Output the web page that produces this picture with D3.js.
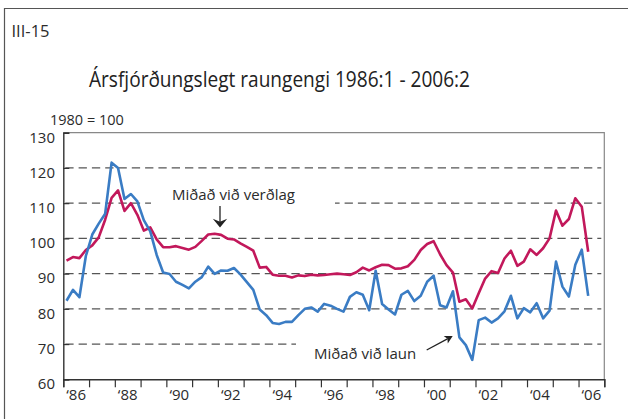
<!DOCTYPE html>
<html>
<head>
<meta charset="utf-8">
<script src="https://cdn.jsdelivr.net/npm/d3@7"></script>
<style>
  html, body { margin: 0; padding: 0; background: #fff; }
  svg { display: block; }
  text { font-family: "Open Sans", "Noto Sans", sans-serif; fill: #2b2b2b; }
</style>
</head>
<body>
<svg id="chart" width="628" height="419"></svg>
<script>
// Real exchange rate index (1980 = 100), quarterly from 1986:1 to 2006:2
const firstYear = 1986;
const firstQuarter = 1;

// Based on relative prices
const verdlag = [
  93.7, 94.7, 94.4, 96.7, 98.0, 100.3, 105.3, 111.5,
  113.6, 107.8, 110.0, 106.7, 102.2, 103.1, 99.7, 97.5,
  97.5, 97.8, 97.3, 96.8, 97.6, 99.3, 101.1, 101.3,
  101.0, 99.9, 99.7, 98.6, 97.6, 96.5, 91.7, 91.9,
  89.7, 89.4, 89.4, 88.9, 89.5, 89.3, 89.7, 89.5,
  89.6, 89.8, 90.0, 89.8, 89.6, 90.4, 91.7, 90.9,
  91.8, 92.5, 92.4, 91.4, 91.5, 92.1, 93.9, 96.7,
  98.4, 99.2, 95.5, 92.4, 90.3, 82.0, 82.7, 80.1,
  84.4, 88.6, 90.7, 90.2, 94.3, 96.5, 92.2, 93.4,
  96.9, 95.3, 97.2, 100.0, 107.9, 103.6, 105.5, 111.4,
  109.0, 96.2
];

// Based on relative unit labour costs
const laun = [
  82.3, 85.4, 83.3, 95.0, 101.1, 104.2, 107.0, 121.5,
  120.0, 111.2, 112.6, 110.5, 105.2, 102.0, 95.3, 90.3,
  89.9, 87.7, 86.8, 85.8, 87.7, 89.0, 92.0, 89.9,
  90.9, 90.8, 91.6, 89.8, 87.6, 85.4, 79.8, 78.2,
  76.0, 75.7, 76.3, 76.3, 78.2, 80.0, 80.4, 79.2,
  81.4, 80.9, 80.0, 79.2, 83.4, 84.7, 84.0, 79.6,
  90.8, 81.4, 79.8, 78.4, 84.0, 85.1, 82.2, 83.7,
  87.7, 89.4, 81.0, 80.4, 85.0, 71.9, 69.7, 65.5,
  76.8, 77.5, 76.1, 77.3, 79.3, 83.7, 77.3, 80.2,
  79.0, 81.6, 77.3, 79.5, 93.4, 86.3, 83.5, 92.5,
  96.8, 83.7
];

const yTickValues = [60, 70, 80, 90, 100, 110, 120, 130];
const gridValues = [70, 80, 90, 100, 110, 120];
const yearLabelYears = [1986, 1988, 1990, 1992, 1994, 1996, 1998, 2000, 2002, 2004, 2006];
const yearLabels = ["‘86", "‘88", "‘90", "‘92", "‘94", "‘96", "‘98", "‘00", "‘02", "‘04", "‘06"];
const xDomain = [1986, 2007];

// quarter i -> decimal time at the middle of the quarter
const periods = verdlag.map((_, i) => {
  const q = firstQuarter - 1 + i;
  const year = firstYear + Math.floor(q / 4);
  const quarter = (q % 4) + 1;
  return { label: year + ":" + quarter, t: year + (quarter - 0.5) / 4 };
});

const svg = d3.select("#chart");
const plotLeft = 63.3, plotRight = 604.3, plotTop = 132.7, plotBottom = 379.3;

const x = d3.scaleLinear().domain(xDomain).range([plotLeft, plotRight]);
const y = d3.scaleLinear().domain([60, 130]).range([plotBottom, plotTop]);

// outer frame (left and top edges)
svg.append("path")
  .attr("d", `M4.5,419 L4.5,8.5 L628,8.5`)
  .attr("fill", "none").attr("stroke", "#555").attr("stroke-width", 1.2);

svg.append("text").attr("x", 11.5).attr("y", 36.5)
  .style("font-size", "16.5px").text("III-15");

svg.append("text").attr("x", 89).attr("y", 87)
  .attr("textLength", 381).attr("lengthAdjust", "spacingAndGlyphs")
  .style("font-size", "21.5px").style("fill", "#222")
  .text("Ársfjórðungslegt raungengi 1986:1 - 2006:2");

svg.append("text").attr("x", 50).attr("y", 125)
  .style("font-size", "14.5px").text("1980 = 100");

// dashed grid
svg.append("g").selectAll("line").data(gridValues).join("line")
  .attr("x1", plotLeft + 2).attr("x2", plotRight - 3)
  .attr("y1", d => y(d)).attr("y2", d => y(d))
  .attr("stroke", "#555").attr("stroke-width", 1.2)
  .attr("stroke-dasharray", "8.3,5");

// label backgrounds
svg.append("rect").attr("x", 151).attr("y", 197).attr("width", 184).attr("height", 13).attr("fill", "#fff");
svg.append("rect").attr("x", 296).attr("y", 338).attr("width", 182).attr("height", 13).attr("fill", "#fff");

// plot frame: light top/right, dark axes
svg.append("path")
  .attr("d", `M${plotLeft},${plotTop} L${plotRight},${plotTop} L${plotRight},${plotBottom}`)
  .attr("fill", "none").attr("stroke", "#888").attr("stroke-width", 1.2);

// y axis with inward ticks
const yAxis = d3.axisRight(y).tickValues(yTickValues).tickSize(6).tickFormat("");
const yg = svg.append("g").attr("transform", `translate(${plotLeft},0)`).call(yAxis);
yg.select(".domain").attr("stroke", "#333").attr("stroke-width", 1.4);
yg.selectAll(".tick line").attr("stroke", "#333").attr("stroke-width", 1.2);

svg.append("g").selectAll("text").data(yTickValues).join("text")
  .attr("x", 55).attr("y", d => y(d) + 9.8)
  .attr("text-anchor", "end")
  .style("font-size", "15px")
  .text(d => d);

// x axis: a tick at each year boundary
const xAxis = d3.axisBottom(x).tickValues(d3.range(xDomain[0], xDomain[1] + 1)).tickSize(8).tickFormat("");
const xg = svg.append("g").attr("transform", `translate(0,${plotBottom})`).call(xAxis);
xg.select(".domain").attr("stroke", "#333").attr("stroke-width", 1.4);
xg.selectAll(".tick line").attr("stroke", "#333").attr("stroke-width", 1.2);

svg.append("g").selectAll("text").data(yearLabelYears).join("text")
  .attr("x", d => x(d + 0.5)).attr("y", 400)
  .attr("text-anchor", "middle")
  .style("font-size", "15px")
  .text((d, i) => yearLabels[i]);

// series lines
const line = d3.line()
  .x((d, i) => x(periods[i].t))
  .y(d => y(d));

svg.append("path").datum(verdlag)
  .attr("d", line).attr("fill", "none")
  .attr("stroke", "#c2185b").attr("stroke-width", 2.6)
  .attr("stroke-linejoin", "round");

svg.append("path").datum(laun)
  .attr("d", line).attr("fill", "none")
  .attr("stroke", "#3a7cc4").attr("stroke-width", 2.6)
  .attr("stroke-linejoin", "round");

// annotations
svg.append("text").attr("x", 172).attr("y", 200)
  .style("font-size", "15px").text("Miðað við verðlag");
svg.append("line").attr("x1", 220).attr("y1", 206).attr("x2", 220).attr("y2", 222)
  .attr("stroke", "#222").attr("stroke-width", 1.3);
svg.append("path")
  .attr("d", "M220,227.5 L212.8,218.8 L220,221.8 L227.2,218.8 Z")
  .attr("fill", "#222");

svg.append("text").attr("x", 314).attr("y", 359)
  .style("font-size", "15px").text("Miðað við laun");
{
  const x0 = 426.7, y0 = 350, x1 = 452.7, y1 = 336;
  const ang = Math.atan2(y1 - y0, x1 - x0);
  const len = 9, half = 0.5, back = 6;
  const bx = x1 - back * Math.cos(ang), by = y1 - back * Math.sin(ang);
  svg.append("line").attr("x1", x0).attr("y1", y0).attr("x2", bx).attr("y2", by)
    .attr("stroke", "#222").attr("stroke-width", 1.3);
  const p1 = [x1 - len * Math.cos(ang - half), y1 - len * Math.sin(ang - half)];
  const p2 = [x1 - len * Math.cos(ang + half), y1 - len * Math.sin(ang + half)];
  svg.append("path")
    .attr("d", `M${x1},${y1} L${p1[0]},${p1[1]} L${bx},${by} L${p2[0]},${p2[1]} Z`)
    .attr("fill", "#222");
}
</script>
</body>
</html>
